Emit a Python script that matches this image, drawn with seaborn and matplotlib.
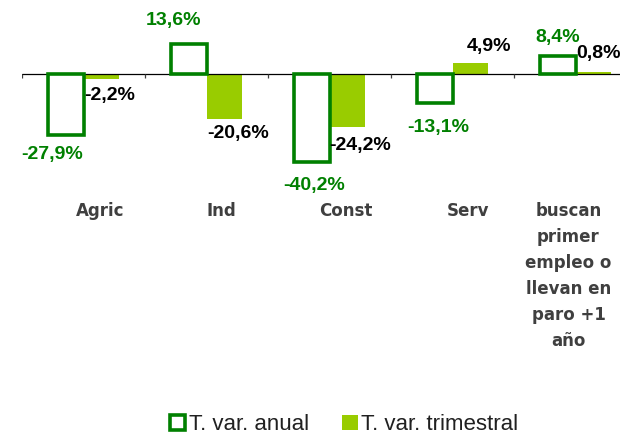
import pandas as pd
import matplotlib.pyplot as plt
import matplotlib.transforms as mtransforms
import seaborn as sns

# --- Data ---
categories = ["Agric", "Ind", "Const", "Serv",
              "buscan\nprimer\nempleo o\nllevan en\nparo +1\naño"]
series_names = ["T. var. anual", "T. var. trimestral"]
anual = [-27.9, 13.6, -40.2, -13.1, 8.4]
trimestral = [-2.2, -20.6, -24.2, 4.9, 0.8]

# label nudges in pixels (dx, dy) from the bar end, as placed in the original
anual_offsets = [(-14, -19), (-15, 24), (2, -24), (3, -25), (0, 18)]
trim_offsets = [(9, -17), (14, -14), (13, -19), (19, 17), (5, 19)]
# category labels sit a little off the category centre in the original (pixels)
cat_label_shift = [17, 15, 16, 15, -7]

GREEN = "#008000"
LIME = "#99CC00"
GREY = "#3f3f3f"

df = pd.DataFrame({
    "cat": categories * 2,
    "serie": [series_names[0]] * len(categories) + [series_names[1]] * len(categories),
    "valor": anual + trimestral,
})

sns.set_style("white")
plt.rcParams["font.family"] = ["Liberation Sans", "DejaVu Sans"]

fig = plt.figure(figsize=(6.2, 4.37), dpi=100)
ax = fig.add_axes([22 / 620, 1 - 190 / 437, 615 / 620, 190 / 437])

sns.barplot(data=df, x="cat", y="valor", hue="serie", palette=["white", LIME],
            width=0.57, saturation=1, legend=False, ax=ax)

# anual bars: white with thick green outline
for bar in ax.containers[0]:
    bar.set_facecolor("white")
    bar.set_edgecolor(GREEN)
    bar.set_linewidth(2.6)
    bar.set_zorder(3)
for bar in ax.containers[1]:
    bar.set_edgecolor("none")
    bar.set_zorder(2)

ax.set_xlim(-0.5, 4.5)
ax.set_ylim(-53, 33.8)

# zero axis line with boundary tick marks
ax.axhline(0, color="black", lw=0.9, zorder=2.5)
ax.vlines([i - 0.5 for i in range(len(categories) + 1)], -1.8, 0,
          color=GREY, lw=0.9, zorder=2.5)

# --- Value labels ---
def fmt(v):
    return f"{v:.1f}%".replace(".", ",")

for bar, v, (dx, dy) in zip(ax.containers[0], anual, anual_offsets):
    xc = bar.get_x() + bar.get_width() / 2
    ax.annotate(fmt(v), (xc, v), xytext=(dx, dy), textcoords="offset pixels",
                ha="center", va="center", color=GREEN, fontsize=14,
                fontweight="bold")
for bar, v, (dx, dy) in zip(ax.containers[1], trimestral, trim_offsets):
    xc = bar.get_x() + bar.get_width() / 2
    ax.annotate(fmt(v), (xc, v), xytext=(dx, dy), textcoords="offset pixels",
                ha="center", va="center", color="black", fontsize=14,
                fontweight="bold")

# --- Axes styling ---
sns.despine(ax=ax, left=True, bottom=True)
ax.set_yticks([])
ax.set_xlabel("")
ax.set_ylabel("")
ax.tick_params(axis="x", length=0, pad=9)
for lab, shift in zip(ax.get_xticklabels(), cat_label_shift):
    lab.set_fontfamily("DejaVu Sans")
    lab.set_fontweight("bold")
    lab.set_fontsize(12)
    lab.set_color(GREY)
    lab.set_linespacing(1.56)
    lab.set_transform(lab.get_transform() +
                      mtransforms.ScaledTranslation(shift / 100, 0, fig.dpi_scale_trans))

# --- Legend ---
fig.legend(ax.containers, series_names, loc="center", bbox_to_anchor=(0.555, 0.028),
           ncol=2, frameon=False, fontsize=16, handlelength=0.7, handleheight=0.7,
           handletextpad=0.15, columnspacing=1.5, labelcolor="#202020")

fig.savefig("out.png", dpi=100)
